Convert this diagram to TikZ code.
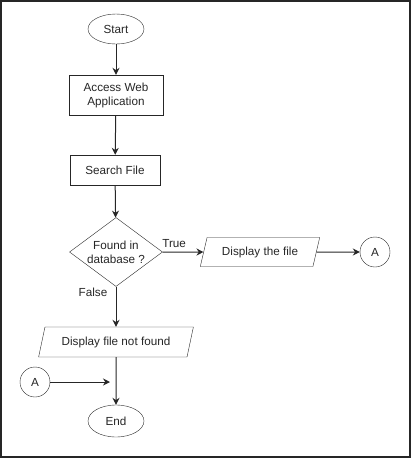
\documentclass[tikz,border=0pt]{standalone}
\usepackage{fontspec}
\setmainfont{Liberation Sans}
\usetikzlibrary{shapes.geometric,arrows.meta}
\colorlet{flowline}{black!85}
\tikzset{
    flowtext/.style={font=\fontsize{11.7}{14}\selectfont, text=black!85},
    terminal/.style={flowtext, draw=flowline, ellipse, minimum width=56pt, minimum height=30pt, inner sep=0pt},
    procbox/.style={flowtext, draw=flowline, rectangle, align=center, inner sep=0pt},
    iobox/.style={flowtext, draw=flowline, trapezium, trapezium left angle=66, trapezium right angle=114, inner sep=0pt, trapezium stretches=true},
    decide/.style={flowtext, draw=flowline, diamond, align=center, inner sep=0pt, aspect=1.35},
    connector/.style={flowtext, draw=flowline, circle, minimum size=30pt, inner sep=0pt},
    flow/.style={draw=flowline, line width=1pt, -{Stealth[length=7pt,width=7pt]}}
}

\begin{document}
\begin{tikzpicture}[x=1pt,y=-1pt]
            \useasboundingbox (0,0) rectangle (412,459);
            \draw[black!85, line width=1.4pt] (1,1) rectangle (410,457);
            \node[terminal] (start) at (116,29) {Start};
            \node[procbox, minimum width=94pt, minimum height=40pt] (access) at (116,95) {Access Web\\Application};
            \node[procbox, minimum width=90pt, minimum height=30pt] (search) at (115,170) {Search File};
            \node[decide, minimum width=93pt, minimum height=69pt] (found) at (116,252) {Found in\\database ?};
            \node[iobox, minimum width=120pt, minimum height=29pt] (showfile) at (260,252) {Display the file};
            \node[connector] (outA) at (375,252) {A};
            \node[iobox, minimum width=155pt, minimum height=30pt] (notfound) at (116,342) {Display file not found};
            \node[connector] (inA) at (35,382) {A};
            \node[terminal, minimum height=32pt] (finish) at (116,421) {End};
            \coordinate (meet) at (110,382);
            % main line
            \foreach \a/\b in {start/access,access/search,search/found,found/notfound,notfound/finish}{
                \draw[flow] (\a) -- (\b);
            }
            \draw[flow] (found.east) -- node[flowtext, above=1pt, pos=0.28]{True} (showfile.west);
            \draw[flow] (showfile.east) -- (outA);
            \draw[flow] (inA) -- (meet);
            \node[flowtext] (falselbl) at (93,292) {False};
\end{tikzpicture}
\end{document}
